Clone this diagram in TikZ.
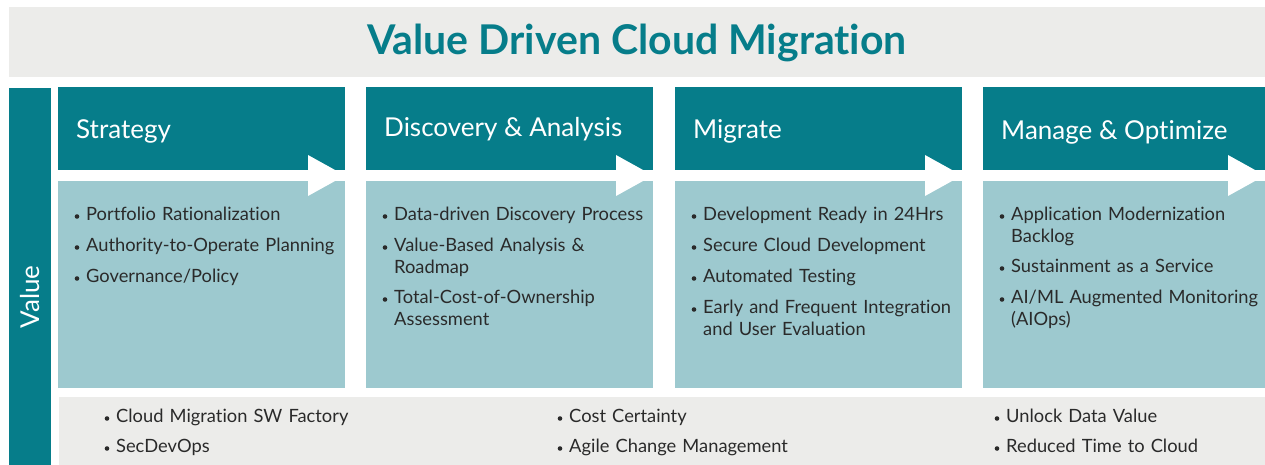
\documentclass[tikz,border=0pt]{standalone}
\usepackage{fontspec}
\setmainfont{Lato}[Ligatures={NoCommon}]
\definecolor{teal}{HTML}{067D8A}
\definecolor{lightteal}{HTML}{9DC9CF}
\definecolor{band}{HTML}{ECECEA}
\definecolor{txt}{HTML}{2A2A2A}
\tikzset{
  hdr/.style={anchor=west, text=white, font=\fontsize{26}{30}\selectfont, inner sep=0pt},
  itm/.style={anchor=north west, text=txt, font=\fontsize{18.3}{22}\selectfont, inner sep=0pt, align=left, text width=#1},
  itm/.default=250pt,
  bul/.style={circle, fill=txt, inner sep=0pt, minimum size=4.6pt},
}
\newcommand{\colbox}[2]{%
  \fill[teal] (#1,87) rectangle (#2,170);
  \fill[lightteal] (#1,181) rectangle (#2,388);
  \fill[white] (#1,170) rectangle ({#2-37},181);
  \fill[white] ({#2-37},155) -- (#2,175.5) -- ({#2-37},196) -- cycle;
}
\newcommand{\bitem}[5]{% name, x of bullet, y top, text, width
  \node[bul] (#1b) at ({#2+3},{#3+9.5}) {};
  \node[itm=#5] (#1) at ({#2+12},#3) {#4};
}
\begin{document}
\begin{tikzpicture}[x=1pt,y=-1pt]
\useasboundingbox (0,0) rectangle (1265,465);
\fill[white] (0,0) rectangle (1265,465);
% title band
\fill[band] (9,7) rectangle (1265,77);
\node[text=teal, font=\fontsize{41}{46}\selectfont\bfseries, inner sep=0pt] (title) at (637,43) {Value Driven Cloud Migration};
% value column
\fill[teal] (9,88) rectangle (51,465);
\node[rotate=90, text=white, font=\fontsize{26}{30}\selectfont, inner sep=0pt] (value) at (30,297) {Value};
% columns
\colbox{58}{345}
\colbox{366}{653}
\colbox{675}{962}
\colbox{983}{1265}
\node[hdr] (h1) at (76,131) {Strategy};
\node[hdr] (h2) at (384,129) {Discovery \& Analysis};
\node[hdr] (h3) at (693,131) {Migrate};
\node[hdr] (h4) at (1001,132) {Manage \& Optimize};
% column 1
\bitem{a1}{74}{207}{Portfolio Rationalization}{265pt}
\bitem{a2}{74}{238}{Authority-to-Operate Planning}{265pt}
\bitem{a3}{74}{269}{Governance/Policy}{265pt}
% column 2
\bitem{b1}{382}{207}{Data-driven Discovery Process}{265pt}
\bitem{b2}{382}{238}{Value-Based Analysis \&\\Roadmap}{265pt}
\bitem{b3}{382}{290}{Total-Cost-of-Ownership\\Assessment}{265pt}
% column 3
\bitem{c1}{691}{207}{Development Ready in 24Hrs}{265pt}
\bitem{c2}{691}{238}{Secure Cloud Development}{265pt}
\bitem{c3}{691}{269}{Automated Testing}{265pt}
\bitem{c4}{691}{300}{Early and Frequent Integration\\and User Evaluation}{265pt}
% column 4
\bitem{d1}{999}{207}{Application Modernization\\Backlog}{265pt}
\bitem{d2}{999}{259}{Sustainment as a Service}{265pt}
\bitem{d3}{999}{290}{AI/ML Augmented Monitoring\\(AIOps)}{265pt}
% bottom band
\fill[band] (59,397) rectangle (1265,465);
\bitem{e1}{104}{409}{Cloud Migration SW Factory}{300pt}
\bitem{e2}{104}{439}{SecDevOps}{300pt}
\bitem{f1}{557}{409}{Cost Certainty}{300pt}
\bitem{f2}{557}{439}{Agile Change Management}{300pt}
\bitem{g1}{994}{409}{Unlock Data Value}{260pt}
\bitem{g2}{994}{439}{Reduced Time to Cloud}{260pt}
\end{tikzpicture}
\end{document}
